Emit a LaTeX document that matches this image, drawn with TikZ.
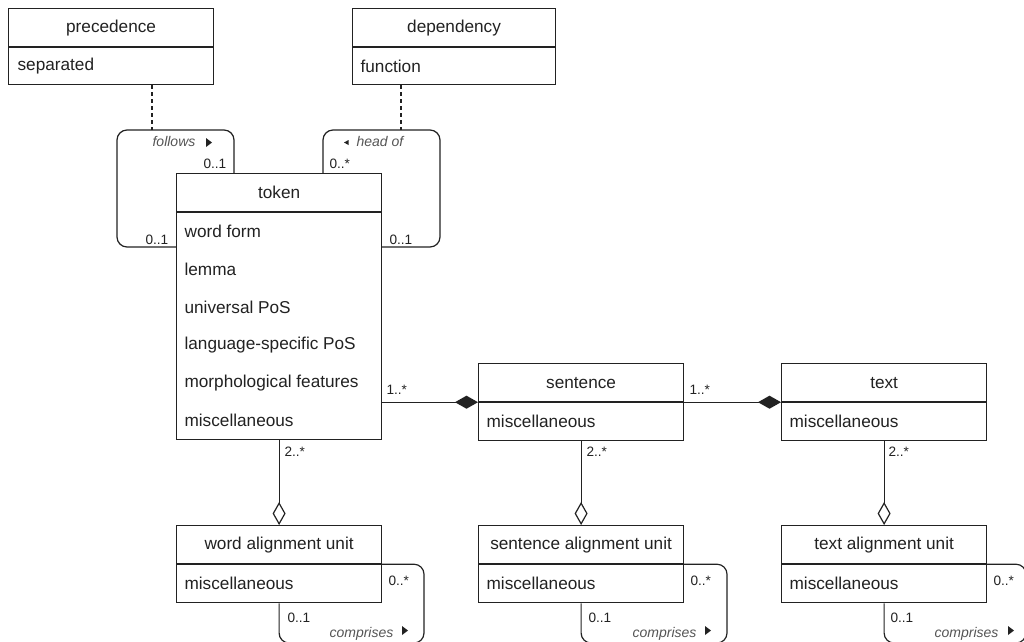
\documentclass[tikz,border=0pt]{standalone}
\usepackage{fontspec}
\setmainfont{Liberation Sans}
\usetikzlibrary{arrows.meta,calc}
\definecolor{ink}{HTML}{222222}
\definecolor{rolegray}{HTML}{555555}
\begin{document}
\begin{tikzpicture}[x=1pt,y=-1pt,line width=1.2pt,
  hdr/.style={draw=ink, line width=1.2pt, minimum width=205pt, minimum height=38pt, anchor=north west, inner sep=0pt, font=\fontsize{17.2}{20}\selectfont, text=ink},
  bdy/.style={draw=ink, line width=1.2pt, minimum width=205pt, anchor=north, inner sep=0pt},
  attr/.style={anchor=west, inner sep=0pt, font=\fontsize{17.2}{20}\selectfont, text=ink},
  mult/.style={anchor=base west, inner sep=0pt, font=\fontsize{13.6}{16}\selectfont, text=ink},
  role/.style={anchor=base west, inner sep=0pt, font=\fontsize{14}{16}\selectfont\itshape, text=rolegray},
  conn/.style={draw=ink, line width=1.2pt},
  loopc/.style={draw=ink, line width=1.2pt, rounded corners=10pt},
  comp/.style={conn, -{Diamond[length=23pt,width=13pt,fill=ink]}},
  aggr/.style={conn, -{Diamond[open,length=23pt,width=13pt,fill=white]}},
  dep/.style={conn, dash pattern=on 4pt off 3pt},
]
\useasboundingbox (0,0) rectangle (1024,641);
\clip (0,0) rectangle (1024,641);
\fill[white] (0,0) rectangle (1024,641);

% classes
\node[hdr] (prec) at (8,8) {precedence};
\node[bdy, minimum height=37pt] (precb) at (prec.south) {};
\node[attr] at ($(precb.west)+(9,0)$) {separated};

\node[hdr, minimum width=203pt] (dep) at (352,8) {dependency};
\node[bdy, minimum width=203pt, minimum height=37pt] (depb) at (dep.south) {};
\node[attr] at ($(depb.west)+(8,0)$) {function};

\node[hdr] (token) at (176,173) {token};
\node[bdy, minimum height=227pt] (tokb) at (token.south) {};
\node[attr] at ($(tokb.north west)+(8,19)$) {word form};
\node[attr] at ($(tokb.north west)+(8,57)$) {lemma};
\node[attr] at ($(tokb.north west)+(8,95)$) {universal PoS};
\node[attr] at ($(tokb.north west)+(8,133)$) {language-specific PoS};
\node[attr] at ($(tokb.north west)+(8,170.5)$) {morphological features};
\node[attr] at ($(tokb.north west)+(8,208)$) {miscellaneous};

\node[hdr] (sent) at (478,363) {sentence};
\node[bdy, minimum height=38pt] (sentb) at (sent.south) {};
\node[attr] at ($(sentb.west)+(8,0)$) {miscellaneous};

\node[hdr] (text) at (781,363) {text};
\node[bdy, minimum height=38pt] (textb) at (text.south) {};
\node[attr] at ($(textb.west)+(8,0)$) {miscellaneous};

\node[hdr] (wau) at (176,525) {word alignment unit};
\node[bdy, minimum height=38pt] (waub) at (wau.south) {};
\node[attr] at ($(waub.west)+(8,0)$) {miscellaneous};

\node[hdr] (sau) at (478,525) {sentence alignment unit};
\node[bdy, minimum height=38pt] (saub) at (sau.south) {};
\node[attr] at ($(saub.west)+(8,0)$) {miscellaneous};

\node[hdr] (tau) at (781,525) {text alignment unit};
\node[bdy, minimum height=38pt] (taub) at (tau.south) {};
\node[attr] at ($(taub.west)+(8,0)$) {miscellaneous};

% self associations on token
\draw[loopc] ($(token.north west)+(58,0)$) |- (117,130) |- ($(token.north west)+(0,74)$);
\draw[loopc] ($(token.north west)+(147,0)$) |- (440,130) |- ($(token.north east)+(0,74)$);
\coordinate (fA) at (152,130);
\coordinate (hA) at (401,130);
\draw[dep] (precb.south -| fA) -- (fA);
\draw[dep] (depb.south -| hA) -- (hA);

\node[role] at (152,146) {follows};
\fill[ink] (206,138) -- (212,142.5) -- (206,147) -- cycle;
\node[mult] at (203,168) {0..1};
\node[mult] at (145,244) {0..1};
\fill[ink] (344,142.5) -- (348.5,140) -- (348.5,145) -- cycle;
\node[role] at (356,146) {head of};
\node[mult] at (329,168) {0..*};
\node[mult] at (389,244) {0..1};

% compositions
\draw[comp] (sent.south west -| tokb.east) -- (sent.south west);
\draw[comp] (text.south west -| sentb.east) -- (text.south west);
\node[mult] at (386,394) {1..*};
\node[mult] at (689,394) {1..*};

% aggregations
\draw[aggr] (tokb.south) -- (wau.north);
\draw[aggr] (sentb.south) -- (sau.north);
\draw[aggr] (textb.south) -- (tau.north);
\node[mult] at (284,456) {2..*};
\node[mult] at (586,456) {2..*};
\node[mult] at (888,456) {2..*};

% comprises loops
\draw[loopc] (wau.south east) -| (424,643) -| (waub.south);
\node[mult] at (388,585) {0..*};
\node[mult] at (287,622) {0..1};
\node[role] at (329,637) {comprises};
\fill[ink] (402,626) -- (408,630.5) -- (402,635) -- cycle;

\draw[loopc] (sau.south east) -| (727,643) -| (saub.south);
\node[mult] at (690,585) {0..*};
\node[mult] at (588,622) {0..1};
\node[role] at (632,637) {comprises};
\fill[ink] (705,626) -- (711,630.5) -- (705,635) -- cycle;

\draw[loopc] (tau.south east) -| (1026,643) -| (taub.south);
\node[mult] at (993,585) {0..*};
\node[mult] at (890,622) {0..1};
\node[role] at (934,637) {comprises};
\fill[ink] (1008,626) -- (1014,630.5) -- (1008,635) -- cycle;
\end{tikzpicture}
\end{document}
